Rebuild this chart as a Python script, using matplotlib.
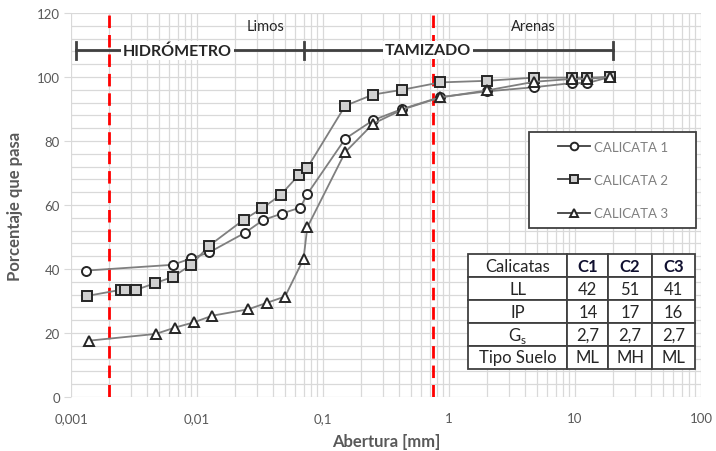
import matplotlib
matplotlib.use("Agg")
import matplotlib.pyplot as plt
from matplotlib.patches import Rectangle
from matplotlib.ticker import LogLocator, FuncFormatter, MultipleLocator

plt.rcParams["font.family"] = ["Lato", "DejaVu Sans"]

# ── Data ──────────────────────────────────────────────────────────────────────
sizes_c1 = [0.00132, 0.0064, 0.009, 0.0125, 0.024, 0.0335, 0.047, 0.066, 0.075,
            0.15, 0.25, 0.425, 0.85, 2.0, 4.75, 9.5, 12.5, 19.0]
pct_c1 = [39.5, 41.3, 43.3, 45.2, 51.3, 55.3, 57.3, 59.2, 63.4,
          80.7, 86.5, 90.0, 93.7, 95.5, 96.8, 98.1, 98.1, 100]

sizes_c2 = [0.00135, 0.0025, 0.0027, 0.0033, 0.0046, 0.0064, 0.009, 0.0125, 0.0235,
            0.033, 0.046, 0.064, 0.075, 0.15, 0.25, 0.425, 0.85, 2.0, 4.75, 9.5, 12.5, 19.0]
pct_c2 = [31.6, 33.5, 33.5, 33.5, 35.5, 37.5, 41.3, 47.3, 55.4,
          59.0, 63.1, 69.3, 71.6, 91.0, 94.5, 96.0, 98.3, 98.8, 99.8, 99.8, 99.8, 100]

sizes_c3 = [0.00139, 0.0047, 0.0067, 0.0094, 0.0132, 0.0255, 0.0357, 0.050, 0.070,
            0.075, 0.15, 0.25, 0.425, 0.85, 2.0, 4.75, 9.5, 12.5, 19.0]
pct_c3 = [17.6, 19.7, 21.7, 23.3, 25.4, 27.4, 29.4, 31.4, 43.1,
          53.0, 76.5, 85.4, 89.8, 93.6, 95.8, 98.5, 99.4, 99.4, 100]

series_labels = ["CALICATA 1", "CALICATA 2", "CALICATA 3"]
limit_lines = [0.002, 0.75]          # red dashed boundaries
bar_ends = [0.0011, 0.07, 20.0]      # hydrometer / sieve bar
bar_y = 108.3
zone_labels = ["Limos", "Arenas"]

table_cols = ["Calicatas", "C1", "C2", "C3"]
table_rows = [
    ["LL", "42", "51", "41"],
    ["IP", "14", "17", "16"],
    [r"G$_\mathregular{s}$", "2,7", "2,7", "2,7"],
    ["Tipo Suelo", "ML", "MH", "ML"],
]

GRID = "#d9d9d9"
TXT = "#595959"

# ── Figure ───────────────────────────────────────────────────────────────────
fig = plt.figure(figsize=(7.16, 4.52), dpi=100)
ax = fig.add_axes([0.0992, 0.1195, 0.8799, 0.8496])

ax.set_xscale("log")
ax.set_xlim(0.001, 100)
ax.set_ylim(0, 120)

ax.xaxis.set_major_locator(LogLocator(base=10, numticks=10))
ax.xaxis.set_minor_locator(LogLocator(base=10, subs=range(2, 10), numticks=20))
ax.xaxis.set_major_formatter(FuncFormatter(
    lambda v, p: ("%g" % v).replace(".", ",")))
ax.yaxis.set_major_locator(MultipleLocator(20))
ax.yaxis.set_minor_locator(MultipleLocator(4))

ax.grid(True, which="both", color=GRID, linewidth=0.9)
ax.set_axisbelow(True)
for s in ax.spines.values():
    s.set_visible(False)
ax.tick_params(axis="x", which="both", length=0, labelsize=9.5, labelcolor=TXT, pad=11)
ax.tick_params(axis="y", which="major", length=5, color=GRID, labelsize=9.5,
               labelcolor=TXT, pad=3)
ax.tick_params(axis="y", which="minor", length=0)

ax.set_xlabel("Abertura [mm]", fontsize=12, fontweight="bold", color=TXT, labelpad=6)
ax.set_ylabel("Porcentaje que pasa", fontsize=12, fontweight="bold", color=TXT, labelpad=10)

# red dashed boundaries
for xv in limit_lines:
    ax.axvline(xv, color="#ff0000", linewidth=2, linestyle=(0, (4.5, 2.5)), zorder=2)

# curves
styles = [("o", "white"), ("s", "#d0d0d0"), ("^", "white")]
for xs, ys, lab, (mk, fc) in zip([sizes_c1, sizes_c2, sizes_c3],
                                 [pct_c1, pct_c2, pct_c3], series_labels, styles):
    ax.plot(xs, ys, color="#7f7f7f", linewidth=1.3, marker=mk, markersize=6.5,
            markerfacecolor=fc, markeredgecolor="#262626", markeredgewidth=1.4,
            label=lab, zorder=4)

# hydrometer / sieve bar
ax.plot([bar_ends[0], bar_ends[2]], [bar_y, bar_y], color="#404040", linewidth=2, zorder=3)
for xv in bar_ends:
    ax.plot([xv, xv], [bar_y - 2.6, bar_y + 2.6], color="#404040", linewidth=2, zorder=3)
ax.text(0.0070, bar_y, "HIDRÓMETRO", ha="center", va="center", fontsize=11.5,
        fontweight="bold", color="#262626", zorder=5,
        bbox=dict(facecolor="white", edgecolor="none", pad=1.5))
ax.text(0.68, bar_y, "TAMIZADO", ha="center", va="center", fontsize=11.5,
        fontweight="bold", color="#262626", zorder=5,
        bbox=dict(facecolor="white", edgecolor="none", pad=1.5))
ax.text(0.0347, 115.8, zone_labels[0], ha="center", va="center", fontsize=10.5, color="#262626")
ax.text(4.64, 115.8, zone_labels[1], ha="center", va="center", fontsize=10.5, color="#262626")

# legend box drawn separately so its size matches the reference
ax.add_patch(Rectangle((0.727, 0.44), 0.265, 0.25, transform=ax.transAxes,
                       facecolor="white", edgecolor="#404040", linewidth=1.3, zorder=5))
leg = ax.legend(loc="center", bbox_to_anchor=(0.86, 0.565), fontsize=9.5,
                labelcolor="#7f7f7f", frameon=False, labelspacing=1.6,
                handlelength=2.4, borderpad=0, borderaxespad=0,
                handletextpad=0.3)
leg.set_zorder(6)
for h in leg.legend_handles:
    h.set_markersize(5.5)
    h.set_color("#404040")
    h.set_markeredgecolor("#262626")

# soil-property table
tbl = ax.table(cellText=table_rows, colLabels=table_cols, cellLoc="center",
               bbox=[0.630, 0.073, 0.360, 0.299],
               colWidths=[0.439, 0.179, 0.194, 0.188])
tbl.auto_set_font_size(False)
tbl.set_fontsize(12)
tbl.set_zorder(6)
for (r, c), cell in tbl.get_celld().items():
    cell.set_edgecolor("#404040")
    cell.set_linewidth(1.3)
    cell.set_facecolor("white")
    cell.get_text().set_color("#262626")
    if r == 0 and c > 0:
        cell.get_text().set_fontweight("bold")
        cell.get_text().set_color("#101030")

fig.savefig("out.png", dpi=100)
